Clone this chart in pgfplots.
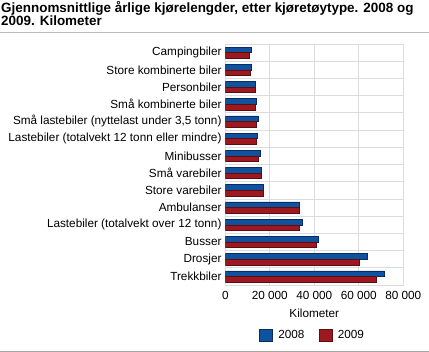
\documentclass[border=0pt]{standalone}
\usepackage{pgfplots}
\pgfplotsset{compat=1.18}
\usepackage{fontspec}
\setmainfont{Liberation Sans}
\definecolor{blueA}{RGB}{14,82,160}
\definecolor{blueE}{RGB}{10,45,95}
\definecolor{redA}{RGB}{158,24,32}
\definecolor{redE}{RGB}{90,14,18}
\definecolor{gridc}{RGB}{220,220,224}
\begin{document}
\begin{tikzpicture}
\useasboundingbox (0bp,0bp) rectangle (429bp,352bp);
\node[anchor=north west,align=left,font=\bfseries\fontsize{13.5}{13}\selectfont,inner sep=0pt] at (1bp,351bp) {Gjennomsnittlige årlige kjørelengder, etter kjøretøytype. 2008 og\\2009. Kilometer};
\draw[color={rgb,255:red,185;green,185;blue,185},line width=1bp] (0bp,319bp) -- (429bp,319bp);
\draw[color={rgb,255:red,165;green,165;blue,165},line width=1.5bp] (0bp,0.75bp) -- (429bp,0.75bp);
\begin{axis}[
  at={(225.3bp,67bp)}, anchor=south west,
  scale only axis, width=178bp, height=241bp,
  xbar, bar width=5.6bp,
  xmin=0, xmax=80000,
  ymin=-0.5, ymax=13.5, y dir=reverse,
  ytick={0,...,13},
  yticklabels={Campingbiler,Store kombinerte biler,Personbiler,Små kombinerte biler,{Små lastebiler (nyttelast under 3,5 tonn)},Lastebiler (totalvekt 12 tonn eller mindre),Minibusser,Små varebiler,Store varebiler,Ambulanser,Lastebiler (totalvekt over 12 tonn),Busser,Drosjer,Trekkbiler},
  minor ytick={0.5,1.5,...,12.5},
  xtick={0,20000,40000,60000,80000},
  xticklabels={0,20 000,40 000,60 000,80 000},
  scaled x ticks=false,
  major tick length=0pt, minor tick length=0pt,
  xmajorgrids, yminorgrids,
  grid style={gridc, line width=0.8bp},
  minor grid style={gridc, line width=0.8bp},
  axis line style={gridc, line width=0.8bp},
  tick label style={font=\fontsize{11.8}{13}\selectfont},
  yticklabel style={xshift=-0.3bp},
  xticklabel style={yshift=-3bp},
  xlabel={Kilometer},
  xlabel style={font=\fontsize{11.8}{13}\selectfont, yshift=-2bp},
  legend columns=2,
  legend style={at={(0.49,-0.207)}, anchor=center, draw=none, font=\fontsize{11.8}{13}\selectfont,
    /tikz/every even column/.append style={column sep=12bp}},
  legend image code/.code={\draw[#1] (0bp,-6bp) rectangle (13bp,6bp); \path[draw=none,fill=none] (17bp,0bp);},
]
\addplot[fill=blueA, draw=blueE, line width=0.5bp, bar shift=2.8bp] coordinates {
(11700,0) (11850,1) (13650,2) (14100,3) (14700,4) (14400,5) (15900,6) (16350,7) (17100,8) (33450,9) (34800,10) (42000,11) (63800,12) (71650,13)};
\addplot[fill=redA, draw=redE, line width=0.5bp, bar shift=-2.8bp] coordinates {
(10950,0) (11250,1) (13350,2) (13650,3) (13800,4) (14100,5) (15000,6) (16200,7) (17050,8) (33100,9) (33250,10) (40900,11) (60400,12) (67700,13)};
\legend{2008,2009}
\end{axis}
\end{tikzpicture}
\end{document}
